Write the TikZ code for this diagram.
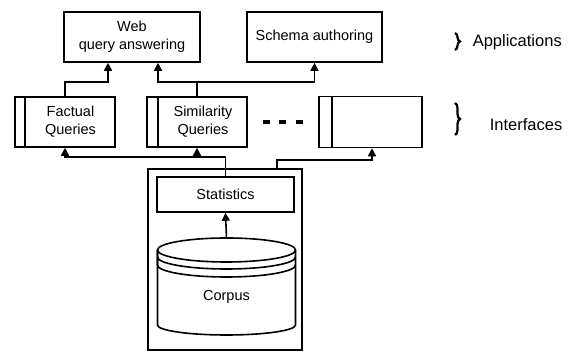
\documentclass[tikz,border=0pt]{standalone}
\usepackage{fontspec}
\setmainfont{Liberation Sans}
\usetikzlibrary{arrows.meta,decorations.pathreplacing}
\begin{document}
\begin{tikzpicture}[x=1pt,y=1pt,
  line width=1.6pt,
  box/.style={draw,rectangle,inner sep=0pt,align=center,font=\fontsize{14.5}{18}\selectfont},
  arr/.style={-{Triangle[length=8pt,width=8pt]}},
  lbl/.style={font=\fontsize{16.5}{19}\selectfont,inner sep=0pt,anchor=west},
  brc/.style={decorate,decoration={brace,amplitude=5pt},line width=2.2pt}]
\useasboundingbox (0,0) rectangle (574,352);
% applications
\node[box,minimum width=136pt,minimum height=50pt] (web) at (132,315) {Web\\query answering};
\node[box,minimum width=135pt,minimum height=50pt] (schema) at (314.5,315) {Schema authoring};
% interfaces
\node[box,minimum width=100pt,minimum height=50pt] (fq) at (65,230) {\hspace*{11pt}Factual\\\hspace*{11pt}Queries};
\node[box,minimum width=100pt,minimum height=50pt] (sq) at (197,230) {\hspace*{12pt}Similarity\\\hspace*{12pt}Queries};
\node[box,minimum width=103pt,minimum height=51pt] (third) at (370.5,230) {};
\draw ([xshift=11pt]fq.north west) -- ([xshift=11pt]fq.south west);
\draw ([xshift=12pt]sq.north west) -- ([xshift=12pt]sq.south west);
\draw ([xshift=14pt]third.north west) -- ([xshift=14pt]third.south west);
% dots
\foreach \xx in {266,282,299}{\fill (\xx-3.5,228) rectangle (\xx+3.5,232);}
% corpus block
\node[box,minimum width=154pt,minimum height=181pt] (outer) at (225,92.5) {};
\node[box,minimum width=137pt,minimum height=35pt] (stats) at (225.5,157.5) {Statistics};
% cylinder
\coordinate (cyltop) at (226.5,114);
\draw (157.5,102) -- (157.5,27) arc[start angle=180,end angle=360,x radius=69,y radius=10] -- (295.5,102);
\draw (226.5,102) ellipse[x radius=69,y radius=12];
\draw (157.5,102) -- (157.5,95) arc[start angle=180,end angle=360,x radius=69,y radius=12];
\draw (295.5,102) -- (295.5,95);
\draw (157.5,95) -- (157.5,87) arc[start angle=180,end angle=360,x radius=69,y radius=12];
\draw (295.5,95) -- (295.5,87);
\node[font=\fontsize{14.5}{18}\selectfont] (corpus) at (226.5,55) {Corpus};
\draw[arr] (cyltop) -- (stats.south);
% connectors
\draw[arr] (fq.north) -- ++(0,14) -| ([xshift=-24pt]web.south);
\draw[arr] (sq.north) -- ++(0,14) -| ([xshift=26pt]web.south);
\draw[arr] ([yshift=14pt]sq.north) -| (schema.south);
\draw[arr] (stats.north) -- ++(0,19) -| (fq.south);
\draw[arr] ([yshift=19pt]stats.north) -| (sq.south);
\draw[arr] ([xshift=52pt]outer.north) -- ++(0,8) -| ([xshift=1.5pt]third.south);
% braces
\draw[brc] (455,319) -- (455,302);
\node[lbl] (app) at (472,310) {Applications};
\draw[brc] (455,249) -- (455,217);
\node[lbl] (intf) at (489,227) {Interfaces};
\end{tikzpicture}
\end{document}
